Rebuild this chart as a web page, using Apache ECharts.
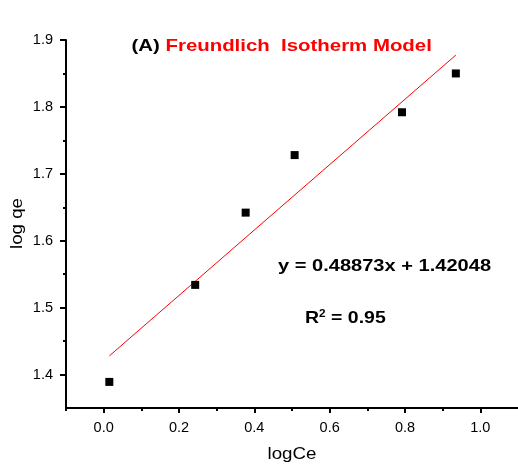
<!DOCTYPE html>
<html>
<head>
<meta charset="utf-8">
<script src="https://cdn.jsdelivr.net/npm/echarts@6/dist/echarts.min.js"></script>
<style>
  html, body { margin: 0; padding: 0; background: #fff; }
  #chart { width: 518px; height: 467px; }
</style>
</head>
<body>
<div id="chart"></div>
<script>
// Freundlich isotherm: log qe against log Ce
const logCe = [0.015, 0.243, 0.377, 0.507, 0.792, 0.935];
const logQe = [1.389, 1.534, 1.642, 1.728, 1.792, 1.850];

// Linear fit reported on the chart
const slope = 0.48873;
const intercept = 1.42048;
const rSquared = '0.95';

// Axis ticks
const xMajorTicks = [0, 0.2, 0.4, 0.6, 0.8, 1.0];
const xMinorTicks = [-0.1, 0.1, 0.3, 0.5, 0.7, 0.9];
const yMajorTicks = [1.4, 1.5, 1.6, 1.7, 1.8, 1.9];
const yMinorTicks = [1.45, 1.55, 1.65, 1.75, 1.85];

const points = logCe.map((x, i) => [x, logQe[i]]);
const xStart = Math.min(...logCe);
const xEnd = Math.max(...logCe);
const fitLine = [xStart, xEnd].map(x => [x, slope * x + intercept]);

const FONT = 'Liberation Sans, Arial, sans-serif';
// Annotation text is drawn slightly widened, like the plotting package's output
const WIDE = 1.2;

const chart = echarts.init(document.getElementById('chart'), null, { renderer: 'canvas' });

const baseX = { type: 'value', min: -0.1, max: 1.1, gridIndex: 0 };
const baseY = { type: 'value', min: 1.35, max: 1.9, gridIndex: 0 };
const tickLabel = { fontFamily: FONT, fontSize: 14.5, color: '#000', formatter: v => v.toFixed(1) };

chart.setOption({
  animation: false,
  backgroundColor: '#ffffff',
  grid: { left: 66, top: 40, right: -1, bottom: 59, containLabel: false },
  graphic: [
    {
      type: 'text', x: 131.5, y: 46, scaleX: WIDE,
      style: {
        text: '{a|(A) }{b|Freundlich  Isotherm Model}',
        verticalAlign: 'middle', align: 'left',
        rich: {
          a: { fontFamily: FONT, fontWeight: 'bold', fontSize: 17, fill: '#000' },
          b: { fontFamily: FONT, fontWeight: 'bold', fontSize: 17, fill: '#ff0000' }
        }
      }
    },
    {
      type: 'text', x: 278, y: 266, scaleX: 1.18,
      style: {
        text: 'y = ' + slope + 'x + ' + intercept.toFixed(5),
        fontFamily: FONT, fontWeight: 'bold', fontSize: 17, fill: '#000',
        verticalAlign: 'middle', align: 'left'
      }
    },
    {
      type: 'text', x: 305, y: 318, scaleX: 1.18,
      style: {
        text: '{r|R}{s|2}{r| = ' + rSquared + '}',
        verticalAlign: 'middle', align: 'left',
        rich: {
          r: { fontFamily: FONT, fontWeight: 'bold', fontSize: 16.5, fill: '#000', verticalAlign: 'bottom' },
          s: { fontFamily: FONT, fontWeight: 'bold', fontSize: 10, fill: '#000', verticalAlign: 'top' }
        }
      }
    },
    {
      type: 'text', x: 292, y: 455, scaleX: 1.17,
      style: {
        text: 'logCe', fontFamily: FONT, fontSize: 16, fill: '#000',
        align: 'center', verticalAlign: 'middle'
      }
    },
    {
      type: 'text', x: 18, y: 223.5, rotation: Math.PI / 2, scaleX: 1.17,
      style: {
        text: 'log qe', fontFamily: FONT, fontSize: 16, fill: '#000',
        align: 'center', verticalAlign: 'middle'
      }
    }
  ],
  xAxis: [
    Object.assign({}, baseX, {
      position: 'bottom',
      axisLine: { show: true, onZero: false, lineStyle: { color: '#000', width: 2 } },
      axisTick: { show: true, inside: false, length: 5, customValues: xMajorTicks, lineStyle: { color: '#000', width: 2 } },
      axisLabel: Object.assign({ customValues: xMajorTicks, margin: 12.5 }, tickLabel),
      splitLine: { show: false }
    }),
    Object.assign({}, baseX, {
      position: 'bottom',
      axisLine: { show: false, onZero: false },
      axisTick: { show: true, inside: false, length: 3, customValues: xMinorTicks, lineStyle: { color: '#000', width: 2 } },
      axisLabel: { show: false },
      splitLine: { show: false }
    })
  ],
  yAxis: [
    Object.assign({}, baseY, {
      position: 'left',
      axisLine: { show: true, onZero: false, lineStyle: { color: '#000', width: 2 } },
      axisTick: { show: true, inside: false, length: 6, customValues: yMajorTicks, lineStyle: { color: '#000', width: 2 } },
      axisLabel: Object.assign({ customValues: yMajorTicks, margin: 13 }, tickLabel),
      splitLine: { show: false }
    }),
    Object.assign({}, baseY, {
      position: 'left',
      axisLine: { show: false, onZero: false },
      axisTick: { show: true, inside: false, length: 3, customValues: yMinorTicks, lineStyle: { color: '#000', width: 2 } },
      axisLabel: { show: false },
      splitLine: { show: false }
    })
  ],
  series: [
    {
      name: 'Linear fit',
      type: 'line',
      xAxisIndex: 0, yAxisIndex: 0,
      data: fitLine,
      showSymbol: false,
      symbol: 'none',
      lineStyle: { color: '#ff0000', width: 1 },
      silent: true,
      z: 2
    },
    {
      name: 'log qe',
      type: 'scatter',
      xAxisIndex: 0, yAxisIndex: 0,
      data: points,
      symbol: 'rect',
      symbolSize: 8,
      itemStyle: { color: '#000', opacity: 1 },
      z: 3
    }
  ]
});
</script>
</body>
</html>
